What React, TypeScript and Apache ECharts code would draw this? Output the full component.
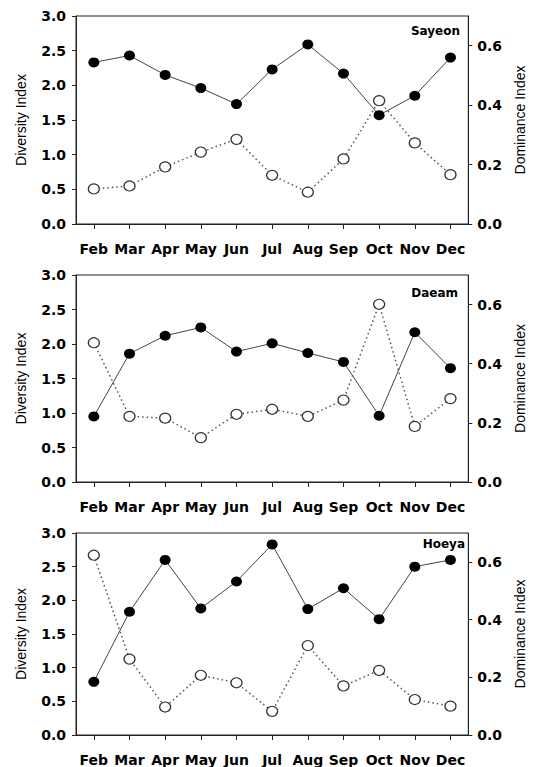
import React, { useEffect, useRef } from "react";
import * as echarts from "echarts";

const months = ["Feb", "Mar", "Apr", "May", "Jun", "Jul", "Aug", "Sep", "Oct", "Nov", "Dec"];
const sites = ["Sayeon", "Daeam", "Hoeya"];

const sayeonDiversity = [2.33, 2.43, 2.15, 1.96, 1.73, 2.23, 2.59, 2.17, 1.57, 1.85, 2.4];
const sayeonDominance = [0.118, 0.128, 0.192, 0.242, 0.285, 0.164, 0.107, 0.219, 0.415, 0.273, 0.166];
const daeamDiversity = [0.95, 1.86, 2.12, 2.24, 1.89, 2.01, 1.87, 1.74, 0.96, 2.17, 1.65];
const daeamDominance = [0.471, 0.222, 0.216, 0.15, 0.229, 0.246, 0.222, 0.277, 0.601, 0.188, 0.282];
const hoeyaDiversity = [0.79, 1.83, 2.6, 1.88, 2.28, 2.83, 1.87, 2.18, 1.72, 2.5, 2.6];
const hoeyaDominance = [0.623, 0.263, 0.097, 0.207, 0.181, 0.082, 0.31, 0.17, 0.224, 0.123, 0.1];

const diversityTicks = [0, 0.5, 1, 1.5, 2, 2.5, 3];
const dominanceTicks = [0, 0.2, 0.4, 0.6];

const diversityData = [sayeonDiversity, daeamDiversity, hoeyaDiversity];
const dominanceData = [sayeonDominance, daeamDominance, hoeyaDominance];

export default function App() {
  const ref = useRef<HTMLDivElement>(null);
  useEffect(() => {
    if (!ref.current) return;
    const chart = echarts.init(ref.current, undefined, { renderer: "svg" });
    const grids = [
      { top: 16, height: 208 },
      { top: 275, height: 207 },
      { top: 533, height: 205 },
    ];
    const siteLabelPos = [
      { x: 460, y: 31 },
      { x: 458, y: 293 },
      { x: 465, y: 544 },
    ];
    const axisColor = "#222";
    const labelFont = { fontFamily: "DejaVu Sans", fontWeight: "bold" as const, color: "#000" };

    const option: any = {
      animation: false,
      backgroundColor: "#fff",
      grid: grids.map((g) => ({
        left: 76,
        right: 61,
        top: g.top,
        height: g.height,
        show: true,
        borderColor: axisColor,
        borderWidth: 1,
        backgroundColor: "transparent",
      })),
      xAxis: grids.map((_, i) => ({
        type: "category",
        gridIndex: i,
        data: months,
        boundaryGap: true,
        axisLine: { show: true, lineStyle: { color: axisColor, width: 1 } },
        axisTick: { show: true, alignWithLabel: true, length: 5, lineStyle: { color: axisColor } },
        axisLabel: { ...labelFont, fontSize: 14, margin: 18, interval: 0 },
        splitLine: { show: false },
      })),
      yAxis: [
        ...grids.map((_, i) => ({
          type: "value",
          gridIndex: i,
          position: "left",
          min: 0,
          max: 3,
          interval: 0.5,
          name: "Diversity Index",
          nameLocation: "middle",
          nameGap: 48,
          nameTextStyle: { fontFamily: "Liberation Sans", fontSize: 14, color: "#000" },
          axisLine: { show: true, lineStyle: { color: axisColor, width: 1 } },
          axisTick: {
            show: true,
            length: 4,
            lineStyle: { color: axisColor },
            customValues: diversityTicks,
          },
          axisLabel: {
            ...labelFont,
            fontSize: 14,
            margin: 10,
            customValues: diversityTicks,
            formatter: (v: number) => v.toFixed(1),
          },
          splitLine: { show: false },
        })),
        ...grids.map((_, i) => ({
          type: "value",
          gridIndex: i,
          position: "right",
          min: 0,
          max: 0.7,
          name: "Dominance Index",
          nameLocation: "middle",
          nameGap: 37,
          nameTextStyle: { fontFamily: "Liberation Sans", fontSize: 14, color: "#000" },
          axisLine: { show: true, lineStyle: { color: axisColor, width: 1 } },
          axisTick: {
            show: true,
            length: 4,
            lineStyle: { color: axisColor },
            customValues: dominanceTicks,
          },
          axisLabel: {
            ...labelFont,
            fontSize: 14,
            margin: 9,
            customValues: dominanceTicks,
            formatter: (v: number) => v.toFixed(1),
          },
          splitLine: { show: false },
        })),
      ],
      series: [
        ...dominanceData.map((d, i) => ({
          name: sites[i] + " Dominance",
          type: "line",
          xAxisIndex: i,
          yAxisIndex: 3 + i,
          data: d,
          symbol: "circle",
          symbolSize: [11, 10],
          lineStyle: { color: "#555", width: 1.5, type: [1.5, 3] },
          itemStyle: { color: "#fff", borderColor: "#333", borderWidth: 1.2 },
          z: 2,
        })),
        ...diversityData.map((d, i) => ({
          name: sites[i] + " Diversity",
          type: "line",
          xAxisIndex: i,
          yAxisIndex: i,
          data: d,
          symbol: "circle",
          symbolSize: [11, 10],
          lineStyle: { color: "#444", width: 1 },
          itemStyle: { color: "#000", borderColor: "#000", borderWidth: 0 },
          z: 3,
        })),
      ],
      graphic: sites.map((s, i) => ({
        type: "text",
        x: siteLabelPos[i].x,
        y: siteLabelPos[i].y,
        style: {
          text: s,
          fontFamily: "DejaVu Sans",
          fontWeight: "bold",
          fontSize: 12,
          fill: "#000",
          align: "right",
          verticalAlign: "middle",
        },
        z: 10,
      })),
    };
    chart.setOption(option);
    return () => chart.dispose();
  }, []);
  return (
    <div
      ref={ref}
      style={{ position: "absolute", left: 0, top: 0, width: 535, height: 767, background: "#fff" }}
    />
  );
}
